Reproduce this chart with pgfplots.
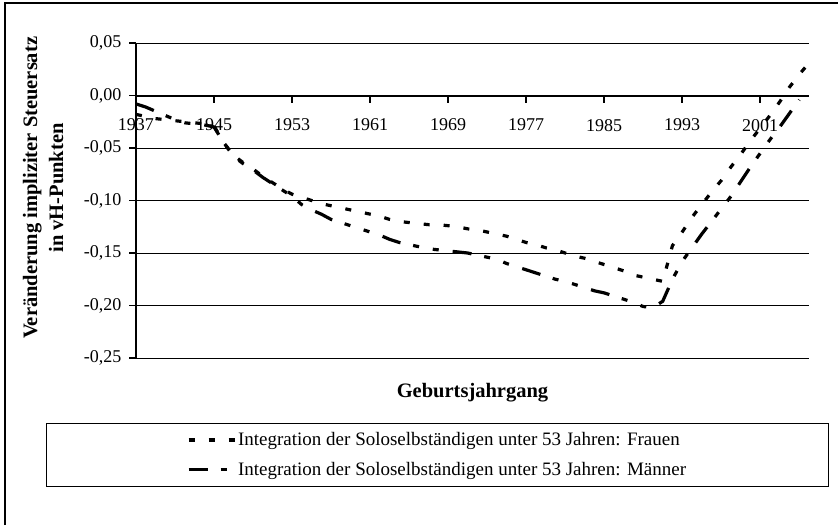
\documentclass[border=0pt]{standalone}
\usepackage{fontspec}
\setmainfont{Liberation Serif}
\usepackage{pgfplots}
\pgfplotsset{compat=1.18}
\begin{document}
\begin{tikzpicture}
\useasboundingbox (0pt,0pt) rectangle (838pt,525pt);
\draw[line width=1.5pt] (5pt,0pt) -- (5pt,522pt) -- (838pt,522pt);
\begin{axis}[
  at={(136pt,167pt)}, anchor=south west,
  scale only axis, width=673pt, height=315pt,
  xmin=1937, xmax=2006, ymin=-0.25, ymax=0.05,
  axis x line*=middle, axis y line*=left,
  axis line style={line width=2pt},
  hide obscured x ticks=false, hide obscured y ticks=false,
  xtick={1937,1945,1953,1961,1969,1977,1985,1993,2001},
  xticklabels={1937,1945,1953,1961,1969,1977,1985,1993,2001},
  ytick={-0.25,-0.2,-0.15,-0.1,-0.05,0,0.05},
  yticklabels={{-0,25},{-0,20},{-0,15},{-0,10},{-0,05},{0,00},{0,05}},
  tick align=outside, major tick length=7pt,
  tick style={black, line width=1.5pt},
  ymajorgrids, grid style={black, line width=1pt},
  ticklabel style={font=\fontsize{18}{20}\selectfont},
  xticklabel style={yshift=-13pt},
  yticklabel style={xshift=-4pt},
  xlabel={Geburtsjahrgang},
  xlabel style={at={(axis description cs:0.5,-0.111)}, anchor=center, font=\bfseries\fontsize{20.5}{24}\selectfont},
  ylabel={Veränderung impliziter Steuersatz\\in vH-Punkten},
  ylabel style={align=center, at={(axis description cs:-0.138,0.54)}, anchor=center, font=\bfseries\fontsize{20.5}{26}\selectfont},
  legend image code/.code={\draw[#1] (0pt,0pt) -- (46pt,0pt);},
  legend style={at={(axis description cs:0.448,-0.2054)}, anchor=north, draw=black, line width=1pt,
    font=\fontsize{19}{21}\selectfont, inner xsep=140pt, inner ysep=7.5pt, row sep=10.5pt,
    nodes={inner sep=2pt}},
  legend cell align=left,
]
\addplot[black, line width=3.2pt, line cap=butt, dash pattern=on 6pt off 14pt] coordinates {
(1937,-0.018) (1938,-0.020) (1939,-0.022) (1940,-0.023) (1941,-0.024) (1942,-0.025) (1943,-0.026) (1944,-0.027)
(1945,-0.029) (1946,-0.045) (1947,-0.057) (1948,-0.064) (1949,-0.070) (1950,-0.077) (1951,-0.083) (1952,-0.089)
(1953,-0.094) (1954,-0.097) (1955,-0.100) (1956,-0.103) (1957,-0.105) (1958,-0.107) (1959,-0.109) (1960,-0.111)
(1961,-0.113) (1962,-0.115) (1963,-0.118) (1964,-0.120) (1965,-0.121) (1966,-0.122) (1967,-0.123) (1968,-0.123)
(1969,-0.124) (1970,-0.125) (1971,-0.127) (1972,-0.128) (1973,-0.130) (1974,-0.132) (1975,-0.134) (1976,-0.137)
(1977,-0.140) (1978,-0.142) (1979,-0.145) (1980,-0.147) (1981,-0.150) (1982,-0.153) (1983,-0.155) (1984,-0.158)
(1985,-0.161) (1986,-0.164) (1987,-0.167) (1988,-0.171) (1989,-0.173) (1990,-0.175) (1991,-0.177) (1992,-0.143)
(1993,-0.130) (1994,-0.116) (1995,-0.104) (1996,-0.092) (1997,-0.081) (1998,-0.068) (1999,-0.056) (2000,-0.043)
(2001,-0.031) (2002,-0.019) (2003,-0.006) (2004,0.008) (2005,0.020) (2006,0.031)
};
\addlegendentry{Integration der Soloselbständigen unter 53 Jahren: Frauen}
\addplot[black, line width=3.2pt, line cap=butt, dash pattern=on 19pt off 13pt on 6pt off 14pt on 6pt off 14pt] coordinates {
(1937,-0.008) (1938,-0.011) (1939,-0.015) (1940,-0.019) (1941,-0.023) (1942,-0.026) (1943,-0.027) (1944,-0.028)
(1945,-0.030) (1946,-0.045) (1947,-0.058) (1948,-0.065) (1949,-0.071) (1950,-0.078) (1951,-0.084) (1952,-0.090)
(1953,-0.096) (1954,-0.104) (1955,-0.109) (1956,-0.113) (1957,-0.118) (1958,-0.121) (1959,-0.124) (1960,-0.127)
(1961,-0.130) (1962,-0.133) (1963,-0.137) (1964,-0.140) (1965,-0.142) (1966,-0.144) (1967,-0.146) (1968,-0.147)
(1969,-0.148) (1970,-0.149) (1971,-0.150) (1972,-0.152) (1973,-0.154) (1974,-0.156) (1975,-0.160) (1976,-0.163)
(1977,-0.166) (1978,-0.169) (1979,-0.172) (1980,-0.175) (1981,-0.177) (1982,-0.180) (1983,-0.183) (1984,-0.186)
(1985,-0.188) (1986,-0.191) (1987,-0.194) (1988,-0.197) (1989,-0.201) (1990,-0.202) (1991,-0.196) (1992,-0.175)
(1993,-0.158) (1994,-0.145) (1995,-0.132) (1996,-0.120) (1997,-0.108) (1998,-0.096) (1999,-0.082) (2000,-0.068)
(2001,-0.055) (2002,-0.042) (2003,-0.030) (2004,-0.017) (2005,-0.004)
};
\addlegendentry{Integration der Soloselbständigen unter 53 Jahren: Männer}
\end{axis}
\end{tikzpicture}
\end{document}
